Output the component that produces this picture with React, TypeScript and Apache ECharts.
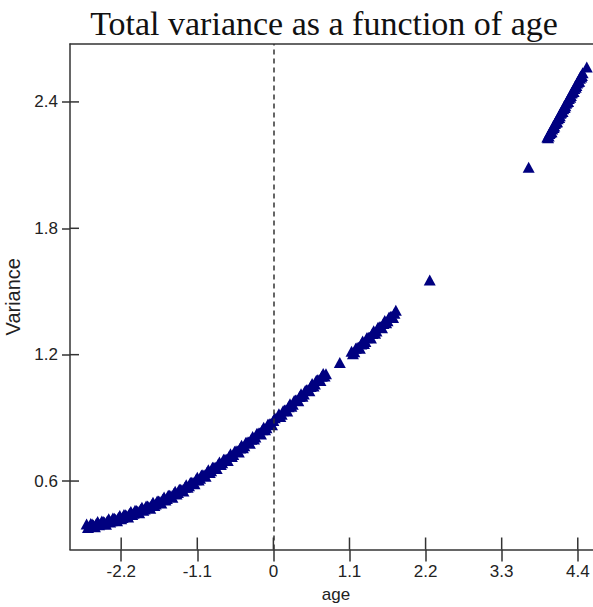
import React, { useEffect, useRef } from "react";
import * as echarts from "echarts";

const ageA = [-2.7, -2.66, -2.62, -2.58, -2.54, -2.5, -2.46, -2.42, -2.38, -2.34, -2.3, -2.26, -2.22, -2.18, -2.14, -2.1, -2.06, -2.02, -1.98, -1.94, -1.9, -1.86, -1.82, -1.78, -1.74, -1.7, -1.66, -1.62, -1.58, -1.54, -1.5, -1.46, -1.42, -1.38, -1.34, -1.3, -1.26, -1.22, -1.18, -1.14, -1.1, -1.06, -1.02, -0.98, -0.94, -0.9, -0.86, -0.82, -0.78, -0.74, -0.7, -0.66, -0.62, -0.58, -0.54, -0.5, -0.46, -0.42, -0.38, -0.34, -0.3, -0.26, -0.22, -0.18, -0.14, -0.1, -0.06, -0.02, 0.02];
const varA = [0.396, 0.385, 0.396, 0.383, 0.408, 0.397, 0.408, 0.395, 0.421, 0.411, 0.423, 0.411, 0.437, 0.427, 0.44, 0.429, 0.456, 0.447, 0.46, 0.449, 0.476, 0.467, 0.481, 0.471, 0.499, 0.491, 0.505, 0.496, 0.524, 0.517, 0.532, 0.523, 0.552, 0.546, 0.561, 0.553, 0.583, 0.578, 0.594, 0.587, 0.618, 0.613, 0.63, 0.623, 0.654, 0.649, 0.666, 0.659, 0.691, 0.687, 0.704, 0.698, 0.73, 0.726, 0.744, 0.738, 0.77, 0.767, 0.785, 0.78, 0.812, 0.809, 0.828, 0.823, 0.856, 0.853, 0.872, 0.867, 0.901];
const ageA2 = [-2.68, -2.64, -2.6, -2.56, -2.52, -2.48, -2.44, -2.4, -2.36, -2.32, -2.28, -2.24, -2.2, -2.16, -2.12, -2.08, -2.04, -2.0, -1.96, -1.92, -1.88, -1.84, -1.8, -1.76, -1.72, -1.68, -1.64, -1.6, -1.56, -1.52, -1.48, -1.44, -1.4, -1.36, -1.32, -1.28, -1.24, -1.2, -1.16, -1.12, -1.08, -1.04, -1.0, -0.96, -0.92, -0.88, -0.84, -0.8, -0.76, -0.72, -0.68, -0.64, -0.6, -0.56, -0.52, -0.48, -0.44, -0.4, -0.36, -0.32, -0.28, -0.24, -0.2, -0.16, -0.12, -0.08, -0.04, 0.0];
const varA2 = [0.38, 0.398, 0.391, 0.399, 0.392, 0.41, 0.404, 0.411, 0.405, 0.424, 0.419, 0.427, 0.421, 0.441, 0.437, 0.446, 0.441, 0.461, 0.457, 0.466, 0.461, 0.481, 0.478, 0.488, 0.484, 0.505, 0.503, 0.513, 0.51, 0.532, 0.53, 0.541, 0.538, 0.561, 0.559, 0.571, 0.57, 0.593, 0.593, 0.606, 0.605, 0.629, 0.629, 0.642, 0.641, 0.665, 0.665, 0.678, 0.678, 0.703, 0.703, 0.717, 0.717, 0.742, 0.743, 0.757, 0.758, 0.783, 0.785, 0.799, 0.8, 0.826, 0.828, 0.843, 0.844, 0.87, 0.872, 0.887];
const ageB = [0.08, 0.12, 0.16, 0.2, 0.24, 0.28, 0.32, 0.36, 0.4, 0.44, 0.48, 0.52, 0.56, 0.6, 0.64, 0.68, 0.72, 0.76];
const varB = [0.919, 0.917, 0.937, 0.933, 0.967, 0.965, 0.985, 0.981, 1.015, 1.013, 1.033, 1.029, 1.063, 1.061, 1.081, 1.077, 1.111, 1.109];
const ageB2 = [0.1, 0.14, 0.18, 0.22, 0.26, 0.3, 0.34, 0.38, 0.42, 0.46, 0.5, 0.54, 0.58, 0.62, 0.66, 0.7, 0.74];
const varB2 = [0.907, 0.934, 0.937, 0.953, 0.955, 0.982, 0.985, 1.001, 1.003, 1.03, 1.033, 1.049, 1.051, 1.078, 1.081, 1.097, 1.099];
const ageC = [1.13, 1.17, 1.21, 1.25, 1.29, 1.33, 1.37, 1.41, 1.45, 1.49, 1.53, 1.57, 1.61, 1.65, 1.69, 1.73, 1.77];
const varC = [1.216, 1.214, 1.234, 1.231, 1.265, 1.263, 1.283, 1.279, 1.314, 1.312, 1.332, 1.328, 1.362, 1.361, 1.381, 1.377, 1.411];
const ageC2 = [1.15, 1.19, 1.23, 1.27, 1.31, 1.35, 1.39, 1.43, 1.47, 1.51, 1.55, 1.59, 1.63, 1.67, 1.71, 1.75];
const varC2 = [1.204, 1.231, 1.235, 1.251, 1.253, 1.28, 1.283, 1.3, 1.302, 1.329, 1.332, 1.348, 1.351, 1.378, 1.381, 1.397];
const ageD = [3.96, 3.98, 4.0, 4.02, 4.04, 4.06, 4.08, 4.1, 4.12, 4.14, 4.16, 4.18, 4.2, 4.22, 4.24, 4.26, 4.28, 4.3, 4.32, 4.34, 4.36, 4.38, 4.4, 4.42, 4.44, 4.46, 4.53];
const varD = [2.234, 2.238, 2.255, 2.258, 2.282, 2.286, 2.303, 2.306, 2.33, 2.334, 2.351, 2.354, 2.378, 2.382, 2.399, 2.402, 2.426, 2.43, 2.447, 2.45, 2.474, 2.478, 2.495, 2.498, 2.522, 2.526, 2.566];
const ageD2 = [3.97, 3.99, 4.01, 4.03, 4.05, 4.07, 4.09, 4.11, 4.13, 4.15, 4.17, 4.19, 4.21, 4.23, 4.25, 4.27, 4.29, 4.31, 4.33, 4.35, 4.37, 4.39, 4.41, 4.43, 4.45, 4.47];
const varD2 = [2.23, 2.25, 2.258, 2.272, 2.278, 2.298, 2.306, 2.32, 2.326, 2.346, 2.354, 2.368, 2.374, 2.394, 2.402, 2.416, 2.422, 2.442, 2.45, 2.464, 2.47, 2.49, 2.498, 2.512, 2.518, 2.538];
const ageIso = [0.96, 2.26, 3.69];
const varIso = [1.163, 1.554, 2.09];

const xTicks = [-2.2, -1.1, 0, 1.1, 2.2, 3.3, 4.4];
const yTicks = [0.6, 1.2, 1.8, 2.4];

const TITLE = "Total variance as a function of age";
const X_NAME = "age";
const Y_NAME = "Variance";

const X_MIN = -2.94;
const X_MAX = 4.62;
const Y_MIN = 0.275;
const Y_MAX = 2.675;

function zip(xs: number[], ys: number[]) {
  return xs.map((x, i) => [x, ys[i]]);
}

export default function App() {
  const ref = useRef<HTMLDivElement>(null);

  useEffect(() => {
    if (!ref.current) return;
    const chart = echarts.init(ref.current, undefined, { renderer: "svg" });

    const points = [
      ...zip(ageA, varA), ...zip(ageA2, varA2),
      ...zip(ageB, varB), ...zip(ageB2, varB2),
      ...zip(ageC, varC), ...zip(ageC2, varC2),
      ...zip(ageD, varD), ...zip(ageD2, varD2),
      ...zip(ageIso, varIso),
    ];

    const axisColor = "#333333";
    const labelColor = "#222222";
    const sans = "Liberation Sans";
    const lineStyle = { color: axisColor, width: 1.5 };

    const titleGraphic = {
      type: "text",
      id: "title",
      x: 324,
      y: 23,
      style: { text: TITLE, fill: "#111111", fontSize: 34, fontFamily: "Liberation Serif", align: "center", verticalAlign: "middle" },
    };

    const option: any = {
      animation: false,
      grid: { left: 70, top: 44, right: 0, bottom: 57.5, containLabel: false, outerBoundsMode: "none" },
      graphic: [titleGraphic],
      xAxis: [
        {
          type: "value", min: X_MIN, max: X_MAX, position: "bottom",
          axisLine: { show: true, onZero: false, lineStyle },
          axisTick: { show: true, inside: false, length: 12, customValues: xTicks, lineStyle },
          axisLabel: { customValues: xTicks, margin: 13, color: labelColor, fontSize: 17, fontFamily: sans, formatter: (v: number) => String(v) },
          splitLine: { show: false },
          name: X_NAME, nameLocation: "middle", nameGap: 36,
          nameTextStyle: { color: labelColor, fontSize: 17, fontFamily: sans, padding: [0, 0, 0, 9] },
        },
        {
          type: "value", min: X_MIN, max: X_MAX, position: "top",
          axisLine: { show: true, onZero: false, lineStyle },
          axisTick: { show: false }, axisLabel: { show: false }, splitLine: { show: false },
        },
      ],
      yAxis: [
        {
          type: "value", min: Y_MIN, max: Y_MAX, position: "left",
          axisLine: { show: true, onZero: false, lineStyle },
          axisTick: { show: true, inside: false, length: 8, customValues: yTicks, lineStyle },
          axisLabel: { customValues: yTicks, margin: 12, color: labelColor, fontSize: 17, fontFamily: sans, formatter: (v: number) => v.toFixed(1) },
          splitLine: { show: false },
          name: Y_NAME, nameLocation: "middle", nameGap: 38,
          nameTextStyle: { color: labelColor, fontSize: 20, fontFamily: sans },
        },
      ],
      series: [
        {
          type: "scatter", xAxisIndex: 0, yAxisIndex: 0, data: points,
          symbol: "triangle", symbolSize: [12, 11],
          itemStyle: { color: "#000080", opacity: 1 },
          markLine: {
            silent: true, symbol: "none", label: { show: false },
            lineStyle: { type: [5, 4], color: axisColor, width: 1.5 },
            data: [{ xAxis: 0 }],
          },
        },
      ],
    };

    chart.setOption(option);

    // inner halves of the ticks, placed through the chart's own scales
    const tickGraphics: any[] = [];
    xTicks.forEach((v, i) => {
      const p = chart.convertToPixel({ gridIndex: 0 }, [v, Y_MIN]) as number[];
      tickGraphics.push({
        type: "rect", id: "xt" + i, silent: true, z: 100,
        shape: { x: p[0] - 0.75, y: p[1] - 12, width: 1.5, height: 12 },
        style: { fill: axisColor },
      });
    });
    yTicks.forEach((v, i) => {
      const p = chart.convertToPixel({ gridIndex: 0 }, [X_MIN, v]) as number[];
      tickGraphics.push({
        type: "rect", id: "yt" + i, silent: true, z: 100,
        shape: { x: p[0], y: p[1] - 0.75, width: 9, height: 1.5 },
        style: { fill: axisColor },
      });
    });
    chart.setOption({ graphic: [titleGraphic, ...tickGraphics] });

    return () => chart.dispose();
  }, []);

  return (
    <div ref={ref} style={{ position: "absolute", left: 0, top: 0, width: 593, height: 607, background: "#ffffff" }} />
  );
}
